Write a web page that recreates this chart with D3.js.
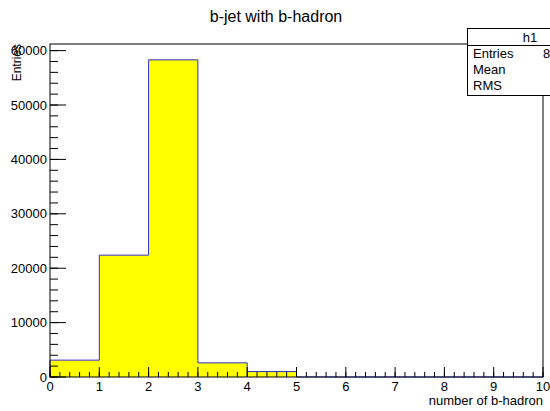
<!DOCTYPE html>
<html><head><meta charset="utf-8">
<script src="https://cdn.jsdelivr.net/npm/d3@7"></script>
<style>body{margin:0;background:#fff}svg{display:block;font-family:"Liberation Sans",Arial,sans-serif}</style>
</head><body>
<script>
const binEdges = [0,1,2,3,4,5,6,7,8,9,10];
const binValues = [3100, 22400, 58300, 2600, 1000, 0, 0, 0, 0, 0];
const xTicks = [0,1,2,3,4,5,6,7,8,9,10];
const yTicks = [0,10000,20000,30000,40000,50000,60000];
const statsLabels = ["Entries","Mean","RMS"];
const statsValues = ["87400","2.225","0.6338"];

const W=550,H=411;
const svg=d3.select("body").append("svg").attr("width",W).attr("height",H);
const L=50,R=543,T=44,B=377;
const x=d3.scaleLinear().domain([0,10]).range([L,R]);
const y=d3.scaleLinear().domain([0,d3.max(binValues)*1.05]).range([B,T]);

// histogram fill
const pts=[[0,0]];
binValues.forEach((v,i)=>{pts.push([binEdges[i],v]);pts.push([binEdges[i+1],v]);});
pts.push([10,0]);
const line=d3.line().x(d=>x(d[0])).y(d=>y(d[1]));
svg.append("path").attr("d",line(pts)+"Z").attr("fill","#ffff00").attr("stroke","none");
svg.append("path").attr("d",line(pts)).attr("fill","none").attr("stroke","#3030c8").attr("stroke-width",1);

// frame
svg.append("rect").attr("x",L).attr("y",T).attr("width",R-L).attr("height",B-T)
  .attr("fill","none").attr("stroke","#000").attr("stroke-width",1);

// x axis
const gx=svg.append("g").attr("transform",`translate(0,${B})`);
const xMinor=d3.range(0,10.0001,0.2);
gx.selectAll("line.mi").data(xMinor).join("line").attr("x1",d=>x(d)).attr("x2",d=>x(d)).attr("y1",0).attr("y2",-5).attr("stroke","#000");
gx.selectAll("line.ma").data(xTicks).join("line").attr("x1",d=>x(d)).attr("x2",d=>x(d)).attr("y1",0).attr("y2",-10).attr("stroke","#000");
gx.selectAll("text").data(xTicks).join("text").attr("x",d=>x(d)).attr("y",14).attr("text-anchor","middle")
  .attr("font-size",13).attr("fill","#000").text(d=>d);
svg.append("text").attr("x",R).attr("y",405).attr("text-anchor","end").attr("font-size",13).text("number of b-hadron");

// y axis
const yMinor=d3.range(0,61001,2000);
svg.selectAll("line.ymi").data(yMinor).join("line").attr("x1",L).attr("x2",L+8).attr("y1",d=>y(d)).attr("y2",d=>y(d)).attr("stroke","#000");
svg.selectAll("line.yma").data(yTicks).join("line").attr("x1",L).attr("x2",L+16).attr("y1",d=>y(d)).attr("y2",d=>y(d)).attr("stroke","#000");
svg.selectAll("text.yl").data(yTicks).join("text").attr("x",L-3).attr("y",d=>y(d)+4.5).attr("text-anchor","end")
  .attr("font-size",13).text(d=>d);
svg.append("text").attr("transform",`translate(21,${T}) rotate(-90)`).attr("text-anchor","end").attr("font-size",12).text("Entries");

// title
svg.append("text").attr("x",W/2+1).attr("y",22).attr("text-anchor","middle").attr("font-size",16).text("b-jet with b-hadron");

// stats box
const sb=svg.append("g");
sb.append("rect").attr("x",467.5).attr("y",28.5).attr("width",130).attr("height",67).attr("fill","#fff").attr("stroke","#000");
sb.append("line").attr("x1",467.5).attr("x2",598).attr("y1",45.5).attr("y2",45.5).attr("stroke","#000");
sb.append("text").attr("x",530).attr("y",42).attr("text-anchor","middle").attr("font-size",13).text("h1");
statsLabels.forEach((s,i)=>{
  sb.append("text").attr("x",473).attr("y",58+i*16).attr("font-size",13).text(s);
  const t=sb.append("text").attr("y",58+i*16).attr("font-size",13).text(statsValues[i]);
  if(i===0) t.attr("x",543); else t.attr("x",596).attr("text-anchor","end");
});
</script>
</body></html>
